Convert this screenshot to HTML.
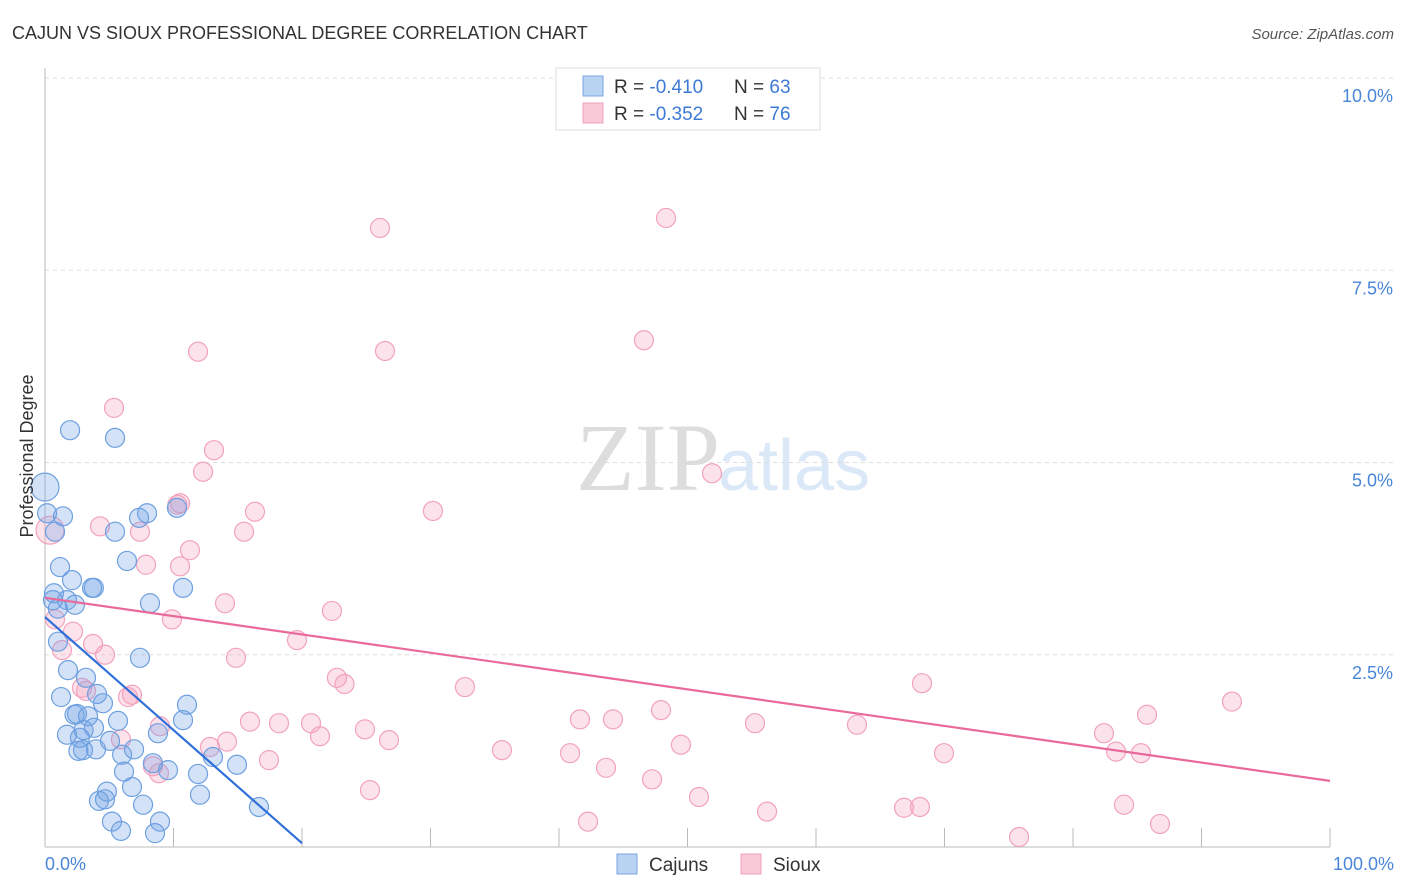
<!DOCTYPE html>
<html><head><meta charset="utf-8"><style>
body{margin:0;background:#fff;font-family:"Liberation Sans",sans-serif}
svg{display:block}
</style></head><body>
<svg width="1406" height="892" viewBox="0 0 1406 892">
<text x="12" y="39" font-size="18" fill="#333">CAJUN VS SIOUX PROFESSIONAL DEGREE CORRELATION CHART</text>
<text x="1394" y="39" font-size="15" fill="#555" font-style="italic" text-anchor="end">Source: ZipAtlas.com</text>
<text x="720" y="490" font-size="96" fill="#ddd" font-family="Liberation Serif,serif" text-anchor="end">ZIP</text>
<text x="718" y="490" font-size="72" fill="#dbe8f7">atlas</text>
<g id="grid"></g>
<g id="axes"></g>
<g id="pts"></g>
<g id="lines"></g>
<text transform="translate(33,456) rotate(-90)" font-size="18" fill="#333" text-anchor="middle">Professional Degree</text>
<text x="45" y="870" font-size="18" fill="#4a86d8">0.0%</text>
<text x="1394" y="870" font-size="18" fill="#4a86d8" text-anchor="end">100.0%</text>
<g>
<rect x="556" y="68" width="264" height="62" fill="#fff" stroke="#ddd"/>
<rect x="583" y="76" width="20" height="20" fill="#b9d3f3" stroke="#7aa6e0"/>
<rect x="583" y="103" width="20" height="20" fill="#f9c9d8" stroke="#f0a0bc"/>
<text x="614" y="93" font-size="19" fill="#333">R = <tspan fill="#3d7ad6">-0.410</tspan></text>
<text x="734" y="93" font-size="19" fill="#333">N = <tspan fill="#3d7ad6">63</tspan></text>
<text x="614" y="120" font-size="19" fill="#333">R = <tspan fill="#3d7ad6">-0.352</tspan></text>
<text x="734" y="120" font-size="19" fill="#333">N = <tspan fill="#3d7ad6">76</tspan></text>
</g>
<g>
<rect x="617" y="854" width="20" height="20" fill="#b9d3f3" stroke="#7aa6e0"/>
<text x="649" y="871" font-size="19" fill="#333">Cajuns</text>
<rect x="741" y="854" width="20" height="20" fill="#f9c9d8" stroke="#f0a0bc"/>
<text x="773" y="871" font-size="19" fill="#333">Sioux</text>
</g>
</svg>
<script>
const yTicks=[2.5,5.0,7.5,10.0];
const xTicks=[0,10,20,30,40,50,60,70,80,90,100];
const cajunX=[1.95,5.45,0.16,1.40,0.78,5.45,7.94,7.32,10.27,6.38,1.17,2.10,3.66,3.8,0.70,0.62,2.33,1.71,8.17,10.74,1.01,7.39,1.79,3.19,1.25,4.05,4.51,2.49,3.35,5.68,1.71,3.81,2.72,5.06,2.96,3.97,6.93,8.79,11.05,10.74,8.40,6.15,9.57,6.77,4.67,7.63,11.91,12.06,13.07,14.94,16.65,5.21,5.91,8.56,8.95,4.82,2.3,3.0,1.0,2.6,6.0,4.2];
const cajunY=[5.42,5.32,4.34,4.30,4.10,4.10,4.34,4.28,4.41,3.72,3.64,3.47,3.37,3.37,3.30,3.21,3.15,3.21,3.17,3.37,2.67,2.46,2.30,2.20,1.95,1.99,1.87,1.73,1.70,1.64,1.46,1.55,1.42,1.38,1.26,1.27,1.27,1.48,1.85,1.65,1.09,0.98,1.00,0.78,0.62,0.55,0.95,0.68,1.17,1.07,0.52,0.33,0.21,0.18,0.33,0.72,1.72,1.52,3.1,1.25,1.2,0.6];
const bigCajunX=[0]; const bigCajunY=[4.68];
const siouxX=[26.07,48.33,11.91,26.46,46.61,5.37,13.15,12.30,51.91,10.51,30.19,16.34,4.28,15.49,7.39,11.28,7.86,10.51,14.01,22.33,9.88,0.78,2.18,3.74,19.61,1.32,4.67,14.86,22.72,23.31,32.68,68.25,2.88,3.19,6.46,6.77,92.37,47.94,85.76,41.63,44.20,15.95,18.21,20.70,8.95,55.25,63.19,24.90,21.40,82.41,26.77,14.16,5.91,12.84,35.56,49.49,40.86,69.96,83.35,85.29,17.43,8.40,8.87,43.66,47.24,25.29,50.89,83.97,66.85,68.09,56.19,42.26,86.77,75.80,10.3];
const siouxY=[8.05,8.18,6.44,6.45,6.59,5.71,5.16,4.88,4.86,4.47,4.37,4.36,4.17,4.10,4.10,3.86,3.67,3.65,3.17,3.07,2.96,2.96,2.80,2.64,2.69,2.56,2.50,2.46,2.20,2.12,2.08,2.13,2.07,2.03,1.95,1.98,1.89,1.78,1.72,1.66,1.66,1.63,1.61,1.61,1.57,1.61,1.59,1.53,1.44,1.48,1.39,1.37,1.40,1.30,1.26,1.33,1.22,1.22,1.24,1.22,1.13,1.05,0.96,1.03,0.88,0.74,0.65,0.55,0.51,0.52,0.46,0.33,0.30,0.13,4.45];
const bigSiouxX=[0.39]; const bigSiouxY=[4.12];
const cajunTrend=[2.99,-0.147,0,20]; // intercept, slope, xStart, xEnd
const siouxTrend=[3.24,-0.0238,0,100];
const X=v=>45+v*12.85, Y=v=>847-v*76.9;
const NS='http://www.w3.org/2000/svg';
function mk(t,a,p){const e=document.createElementNS(NS,t);for(const k in a)e.setAttribute(k,a[k]);document.getElementById(p).appendChild(e);return e;}
yTicks.forEach(t=>{
 const l=mk('line',{x1:45,x2:1395,y1:Y(t),y2:Y(t),stroke:'#ddd','stroke-dasharray':'4,4'},'grid');
 
 
 const tx=mk('text',{x:1393,y:Y(t)+24,'font-size':18,fill:'#4a86d8','text-anchor':'end'},'grid');
 tx.textContent=t.toFixed(1)+'%';
 
 
});
const a1=mk('line',{x1:45,x2:45,y1:68,y2:847,stroke:'#bbb'},'axes');


const a2=mk('line',{x1:45,x2:1330,y1:847,y2:847,stroke:'#bbb'},'axes');


xTicks.forEach(t=>{
 const l=mk('line',{x1:X(t),x2:X(t),y1:828,y2:847,stroke:'#bbb'},'axes');
 
 
});
function dots(xs,ys,r,fill,stroke,name){xs.forEach((v,i)=>{
 const c=mk('circle',{cx:X(v),cy:Y(ys[i]),r:r,fill:fill,stroke:stroke,'stroke-width':1.2},'pts');
 
 
});}
dots(siouxX,siouxY,9.5,'rgba(244,160,190,0.3)','#f2a2be','sioux-point');
dots(bigSiouxX,bigSiouxY,14,'rgba(244,160,190,0.3)','#f2a2be','sioux-point');
dots(cajunX,cajunY,9.5,'rgba(110,160,230,0.3)','#6ea0e0','cajun-point');
dots(bigCajunX,bigCajunY,14,'rgba(110,160,230,0.3)','#6ea0e0','cajun-point');
function trend(c,col,name){
 const l=mk('line',{x1:X(c[2]),y1:Y(c[0]+c[1]*c[2]),x2:X(c[3]),y2:Y(c[0]+c[1]*c[3]),stroke:col,'stroke-width':2.2},'lines');
 
 
}
trend(cajunTrend,'#2f6fd8','cajun-trend-line');
trend(siouxTrend,'#e8699a','sioux-trend-line');
</script>
</body></html>
